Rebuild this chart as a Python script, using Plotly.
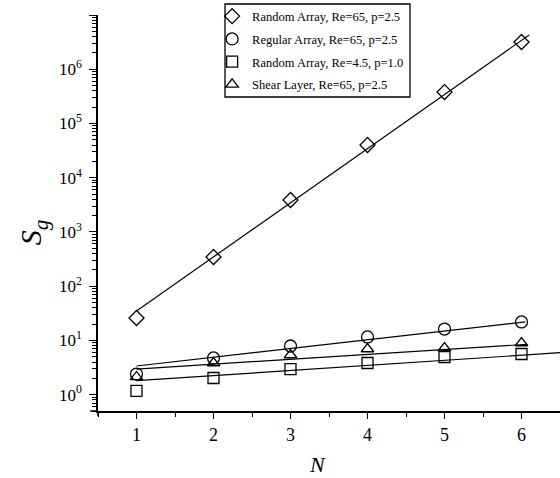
import numpy as np
import plotly.graph_objects as go

# ---- data ----
N = [1, 2, 3, 4, 5, 6]
random_re65 = [25.9, 345, 3880, 40100, 380000, 3.18e6]
regular_re65 = [2.40, 4.75, 7.89, 11.6, 16.2, 21.9]
random_re45 = [1.17, 2.03, 2.97, 3.84, 4.95, 5.62]
shear_re65 = [2.12, 3.84, 5.39, 6.95, 7.25, 8.97]

# fitted straight lines (end points)
fit_random65_x = [1, 6.1]
fit_random65_y = [34.9, 4.28e6]
fit_regular65_x = [1, 6.05]
fit_regular65_y = [3.38, 21.9]
fit_shear65_x = [1, 6.07]
fit_shear65_y = [2.97, 8.49]
fit_random45_x = [1, 6.5]
fit_random45_y = [1.81, 5.94]

labels = ["Random Array, Re=65, p=2.5", "Regular Array, Re=65, p=2.5",
          "Random Array, Re=4.5, p=1.0", "Shear Layer, Re=65, p=2.5"]
y_tick_vals = [1, 10, 100, 1e3, 1e4, 1e5, 1e6, 1e7]
y_tick_text = ["10<sup>%d</sup>" % i for i in range(7)] + [""]
x_tick_vals = [1, 2, 3, 4, 5, 6]
y_range = [0.5, 1e7]

FONT = "Liberation Serif"
fig = go.Figure()

for fx, fy in [(fit_random65_x, fit_random65_y), (fit_regular65_x, fit_regular65_y),
               (fit_shear65_x, fit_shear65_y), (fit_random45_x, fit_random45_y)]:
    fig.add_trace(go.Scatter(x=fx, y=fy, mode="lines", showlegend=False,
                             line=dict(color="black", width=1.2), hoverinfo="skip"))

series = [(random_re65, "diamond-open", 11.5), (regular_re65, "circle-open", 12),
          (random_re45, "square-open", 11), (shear_re65, "triangle-up-open", 11)]
for i, ((vals, sym, sz), lab) in enumerate(zip(series, labels)):
    fig.add_trace(go.Scatter(x=N, y=vals, mode="markers", name=lab, legendgroup="g%d" % i,
                             marker=dict(symbol=sym, size=sz, color="black",
                                         line=dict(color="black", width=1.3))))

minor_y = [k * 10.0 ** n for n in range(-1, 7) for k in range(2, 10)
           if y_range[0] <= k * 10.0 ** n <= y_range[1]]

fig.update_layout(
    width=560, height=478,
    margin=dict(l=98, r=0, t=15, b=67),
    paper_bgcolor="white", plot_bgcolor="white",
    font=dict(family=FONT, color="black"),
    showlegend=True,
    legend=dict(x=0.247, y=1.034, xanchor="left", yanchor="top",
                bgcolor="rgba(0,0,0,0)", borderwidth=0, tracegroupgap=3.5,
                font=dict(family=FONT, size=12.5, color="black")),
    xaxis=dict(range=[0.5, 6.5], tickvals=x_tick_vals, ticks="outside", ticklen=6,
               tickwidth=1.3, tickcolor="black", showline=True, linecolor="black",
               linewidth=1.5, showgrid=False, zeroline=False,
               tickfont=dict(family=FONT, size=18), ticklabelstandoff=1,
               minor=dict(tickmode="linear", tick0=0.5, dtick=0.5, ticks="outside",
                          ticklen=4, tickwidth=1.2, tickcolor="black", showgrid=False)),
    yaxis=dict(type="log", range=[np.log10(y_range[0]), np.log10(y_range[1])],
               tickmode="array", tickvals=y_tick_vals, ticktext=y_tick_text,
               ticks="outside", ticklen=7, tickwidth=1.3, tickcolor="black",
               showline=True, linecolor="black", linewidth=1.5, showgrid=False,
               zeroline=False, tickfont=dict(family=FONT, size=17),
               ticklabelstandoff=4,
               minor=dict(tickmode="array", tickvals=minor_y, ticks="outside",
                          ticklen=4, tickwidth=1.2, tickcolor="black", showgrid=False)),
    shapes=[
        dict(type="rect", xref="paper", yref="paper", x0=0.2749, x1=0.6753,
             y0=0.7929, y1=1.0278, line=dict(color="black", width=1.3),
             fillcolor="white", layer="above"),
        dict(type="line", xref="x domain", yref="y domain", x0=-0.017, x1=0, y0=0, y1=0,
             line=dict(color="black", width=1.5)),
        dict(type="line", xref="x domain", yref="y domain", x0=0, x1=0, y0=0, y1=-0.013,
             line=dict(color="black", width=1.5)),
    ],
    annotations=[
        dict(text="<i>N</i>", xref="paper", yref="paper", x=0.476, y=-0.136,
             xanchor="center", yanchor="middle", showarrow=False,
             font=dict(family=FONT, size=22)),
        dict(text="<i>S</i><sub><i>g</i></sub>", xref="paper", yref="paper", x=-0.14,
             y=0.452, xanchor="center", yanchor="middle", showarrow=False,
             textangle=-90, font=dict(family=FONT, size=30)),
    ],
)

fig.write_html("out.html")
